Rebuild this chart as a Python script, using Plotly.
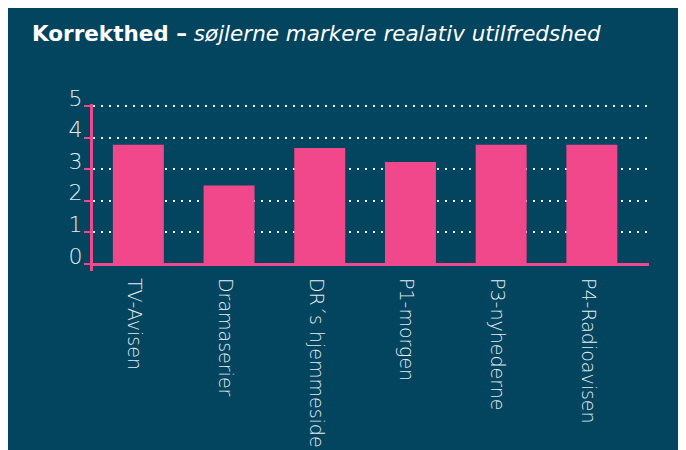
import plotly.graph_objects as go

categories = ["TV-Avisen", "Dramaserier", "DR´s hjemmeside", "P1-morgen", "P3-nyhederne", "P4-Radioavisen"]
values = [3.77, 2.48, 3.67, 3.23, 3.77, 3.77]
y_ticks = [0, 1, 2, 3, 4, 5]

BG = "#03445F"
PINK = "#F0488B"
TXT = "#E4ECF1"

# figure sits inside the page's 8px body margin
W, H = 678, 442
L, R, T, B = 85, 37, 96, 179

fig = go.Figure(go.Bar(x=categories, y=values, marker=dict(color=PINK, line=dict(width=0))))

fig.update_layout(
    width=W, height=H,
    margin=dict(l=L, r=R, t=T, b=B, pad=0, autoexpand=False),
    paper_bgcolor=BG,
    plot_bgcolor=BG,
    showlegend=False,
    bargap=0.438,
    font=dict(family="DejaVu Sans", color=TXT),
    title=dict(
        text="<b>Korrekthed –</b> <i>søjlerne markere realativ utilfredshed</i>",
        font=dict(family="DejaVu Sans", size=21.5, color="white"),
        xref="container", yref="container",
        x=24 / W, xanchor="left",
        y=1 - 25 / H, yanchor="middle",
    ),
)

fig.update_xaxes(
    type="category",
    range=[-0.5, 5.63],
    automargin=False,
    showline=False, showgrid=False, ticks="",
    tickangle=90,
    ticklabelstandoff=6,
    ticklabelshift=-4,
    tickfont=dict(family="DejaVu Sans", size=19, color=TXT, weight=200),
    fixedrange=True,
)

fig.update_yaxes(
    range=[-0.22, 5.06],
    automargin=False,
    tickvals=y_ticks,
    showline=True, linecolor=PINK, linewidth=3,
    ticks="outside", ticklen=6, tickwidth=2, tickcolor=PINK,
    ticklabelshift=-8,
    ticklabelstandoff=-3,
    tickfont=dict(family="DejaVu Sans", size=22, color=TXT, weight=200),
    showgrid=True, gridcolor="white", gridwidth=2, griddash="2px,6px",
    zeroline=True, zerolinecolor=PINK, zerolinewidth=3,
    fixedrange=True,
)

fig.write_html("out.html")
